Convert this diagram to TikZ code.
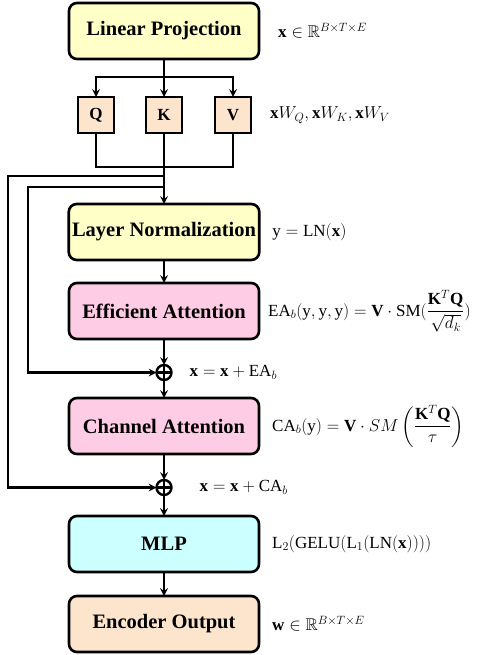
\documentclass[tikz,border=0pt]{standalone}
\usepackage{amsmath,amssymb}
\usepackage{fontspec}
\setmainfont{Liberation Serif}
\usetikzlibrary{positioning,calc}
\definecolor{lpyellow}{RGB}{255,255,200}
\definecolor{qkvpeach}{RGB}{253,228,205}
\definecolor{attpink}{RGB}{255,204,230}
\definecolor{mlpcyan}{RGB}{204,255,255}
\tikzstyle{block} = [rectangle,
                    rounded corners=8pt,
                    minimum width=190pt,
                    minimum height=56pt,
                    outer sep=0pt,
                    align=center,
                    draw=black,
                    line width=2.6pt,
                    font=\fontsize{20.5}{23}\selectfont\bfseries]
\tikzstyle{qkv} = [rectangle,
                  minimum width=36pt,
                  minimum height=36pt,
                  outer sep=0pt,
                  draw=black,
                  line width=2.6pt,
                  fill=qkvpeach,
                  font=\fontsize{17}{19}\selectfont\bfseries]
\tikzstyle{adder} = [circle,
                    draw=black,
                    line width=2.4pt,
                    minimum size=15pt,
                    outer sep=0pt,
                    inner sep=0pt,
                    path picture={\draw[line width=2.4pt]
                      (path picture bounding box.north) -- (path picture bounding box.south)
                      (path picture bounding box.west) -- (path picture bounding box.east);}]
\tikzstyle{eq} = [inner sep=0pt,
                 anchor=west,
                 font=\fontsize{17}{19}\selectfont]
\tikzstyle{flow} = [>=stealth,
                   line width=2.4pt]

\begin{document}
\begin{tikzpicture}[flow]
    \useasboundingbox (0,0) rectangle (486pt,-655pt);
    \node (lp) at (164pt,-31pt) [block, fill=lpyellow] {Linear Projection};
    \node (k) [below=38pt of lp] [qkv] {K};
    \node (q) [left=32pt of k] [qkv] {Q};
    \node (v) [right=33pt of k] [qkv] {V};
    \node (ln) [below=71pt of k] [block, fill=lpyellow] {Layer Normalization};
    \node (ea) [below=23pt of ln] [block, fill=attpink] {Efficient Attention};
    \node (add1) [below=26pt of ea] [adder] {};
    \node (ca) [below=18pt of add1] [block, fill=attpink] {Channel Attention};
    \node (add2) [below=26pt of ca] [adder] {};
    \node (mlp) [below=21pt of add2] [block, fill=mlpcyan] {MLP};
    \node (out) [below=24pt of mlp] [block, fill=qkvpeach] {Encoder Output};

    % equations on the right
    \node (lplab) [eq, right=18pt of lp] {$\mathbf{x}\in\mathbb{R}^{B\times T\times E}$};
    \node (qkvlab) [eq, right=18pt of v] {$\mathbf{x}W_Q,\mathbf{x}W_K,\mathbf{x}W_V$};
    \node (lnlab) [eq, right=12pt of ln] {$\mathrm{y}=\mathrm{LN}(\mathbf{x})$};
    \node (ealab) [eq, right=8pt of ea] {$\mathrm{EA}_b(\mathrm{y},\mathrm{y},\mathrm{y})=\mathbf{V}\cdot\mathrm{SM}(\dfrac{\mathbf{K}^T\mathbf{Q}}{\sqrt{d_k}})$};
    \node (add1lab) [eq, right=17pt of add1] {$\mathbf{x}=\mathbf{x}+\mathrm{EA}_b$};
    \node (calab) [eq, right=12pt of ca] {$\mathrm{CA}_b(\mathrm{y})=\mathbf{V}\cdot SM\left(\dfrac{\mathbf{K}^T\mathbf{Q}}{\tau}\right)$};
    \node (add2lab) [eq, right=27pt of add2] {$\mathbf{x}=\mathbf{x}+\mathrm{CA}_b$};
    \node (mlplab) [eq, right=12pt of mlp] {$\mathrm{L}_2(\mathrm{GELU}(\mathrm{L}_1(\mathrm{LN}(\mathbf{x}))))$};
    \node (outlab) [eq, right=12pt of out] {$\mathbf{w}\in\mathbb{R}^{B\times T\times E}$};

    % fork into Q, K, V and join again
    \coordinate (fork) at ($(lp.south)+(0,-18pt)$);
    \coordinate (join) at ($(k.south)+(0,-34pt)$);
    \coordinate (tap1) at ($(k.south)+(0,-43pt)$);
    \coordinate (tap2) at ($(k.south)+(0,-54pt)$);
    \coordinate (outer) at (8pt,0);
    \coordinate (inner) at (28pt,0);
    \draw (lp.south) -- (fork);
    \draw[->] (fork) -| (q.north);
    \draw[->] (fork) -- (k.north);
    \draw[->] (fork) -| (v.north);
    \draw (q.south) |- (join) -| (v.south);
    \draw[->] (k.south) -- (ln.north);

    % residual paths
    \draw[->] (tap1) -- (tap1 -| outer) |- (add2.west);
    \draw[->] (tap2) -- (tap2 -| inner) |- (add1.west);

    \draw[->] (ln) -- (ea);
    \draw[->] (ea) -- (add1);
    \draw[->] (add1) -- (ca);
    \draw[->] (ca) -- (add2);
    \draw[->] (add2) -- (mlp);
    \draw[->] (mlp) -- (out);
\end{tikzpicture}
\end{document}
